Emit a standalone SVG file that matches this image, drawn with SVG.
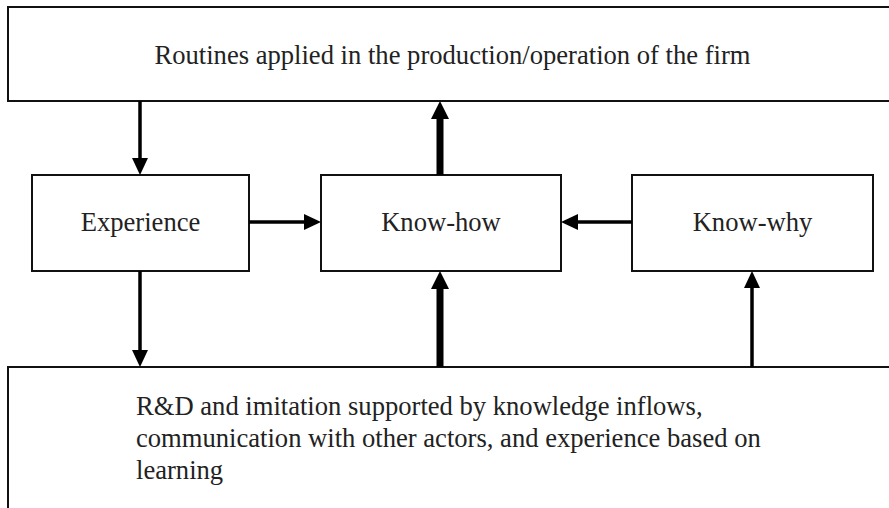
<svg xmlns="http://www.w3.org/2000/svg" width="889" height="508" viewBox="0 0 889 508">
  <style>
    .box { fill: #ffffff; stroke: #111111; stroke-width: 2; }
    .lbl { font-family: "Liberation Serif", "Times New Roman", serif; font-size: 26.6px; fill: #222222; }
    .thin { stroke: #000000; stroke-width: 3.5; fill: none; marker-end: url(#headThin); }
    .thick { stroke: #000000; stroke-width: 7; fill: none; marker-end: url(#headThick); }
  </style>
  <defs>
    <!-- arrowheads start at the end of the shaft, so each line stops at the head's base -->
    <marker id="headThin" markerUnits="userSpaceOnUse" markerWidth="17" markerHeight="16" refX="0" refY="8" orient="auto">
      <path d="M0,0 L17,8 L0,16 z" fill="#000000"/>
    </marker>
    <marker id="headThick" markerUnits="userSpaceOnUse" markerWidth="18" markerHeight="18" refX="0" refY="9" orient="auto">
      <path d="M0,0 L18,9 L0,18 z" fill="#000000"/>
    </marker>
  </defs>
  <rect width="889" height="508" fill="#ffffff"/>

  <g id="routines">
    <rect class="box" x="8" y="7" width="900" height="94"/>
    <text class="lbl" x="452.5" y="64" text-anchor="middle">Routines applied in the production/operation of the firm</text>
  </g>

  <g id="experience">
    <rect class="box" x="32" y="175" width="217" height="96"/>
    <text class="lbl" x="140.5" y="231" text-anchor="middle">Experience</text>
  </g>

  <g id="know-how">
    <rect class="box" x="321" y="175" width="240" height="96"/>
    <text class="lbl" x="441" y="231" text-anchor="middle">Know-how</text>
  </g>

  <g id="know-why">
    <rect class="box" x="632" y="175" width="241" height="96"/>
    <text class="lbl" x="752.5" y="231" text-anchor="middle">Know-why</text>
  </g>

  <g id="rd-learning">
    <rect class="box" x="8" y="367" width="900" height="200"/>
    <text class="lbl" x="136" y="415">R&amp;D and imitation supported by knowledge inflows,</text>
    <text class="lbl" x="136" y="447">communication with other actors, and experience based on</text>
    <text class="lbl" x="136" y="479">learning</text>
  </g>

  <g id="connectors">
    <line class="thin" x1="140" y1="101" x2="140" y2="158"/>
    <line class="thin" x1="249" y1="222" x2="304" y2="222"/>
    <line class="thin" x1="632" y1="222" x2="578" y2="222"/>
    <line class="thick" x1="440" y1="175" x2="440" y2="119"/>
    <line class="thick" x1="440" y1="367" x2="440" y2="289"/>
    <line class="thin" x1="752" y1="367" x2="752" y2="288"/>
    <line class="thin" x1="140" y1="271" x2="140" y2="350"/>
  </g>
</svg>
